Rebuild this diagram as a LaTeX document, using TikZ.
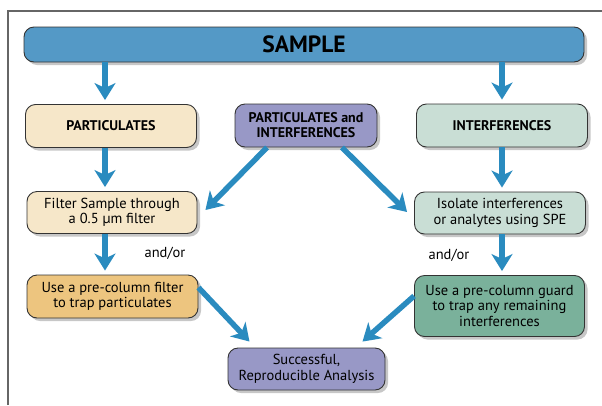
\documentclass[tikz,border=0pt]{standalone}
\usepackage{fontspec}
\setmainfont{PT Sans}
\usetikzlibrary{arrows.meta,shadows}
\definecolor{flowblue}{HTML}{2A8BBF}
\definecolor{sampleblue}{HTML}{5499C6}
\definecolor{beige}{HTML}{F6E7C9}
\definecolor{lavender}{HTML}{9898C6}
\definecolor{mint}{HTML}{C9DED5}
\definecolor{ochre}{HTML}{EDC57F}
\definecolor{sage}{HTML}{7AB19B}
\definecolor{boxline}{HTML}{333333}
\tikzset{
	box/.style={draw=boxline,line width=0.9pt,rounded corners=10pt,align=center,
		inner sep=0pt,font=\fontsize{14.5}{15.5}\selectfont,
		drop shadow={shadow xshift=3pt,shadow yshift=-3pt,fill=black!22,opacity=1}},
	headbox/.style={box,font=\bfseries\fontsize{14}{15}\selectfont},
	flow/.style={draw=flowblue,line width=5.5pt,
		-{Stealth[length=17pt,width=21pt,inset=5pt,fill=flowblue]}},
	note/.style={font=\fontsize{14.5}{15.5}\selectfont}
}
\begin{document}
\begin{tikzpicture}[x=1pt,y=-1pt]
	\useasboundingbox (0,0) rectangle (602,405);
	% frame
	\draw[black!60,line width=2pt] (8,405) -- (8,11) -- (602,11);
	% boxes
	\node[box,fill=sampleblue,minimum width=560pt,minimum height=35pt,
		font=\bfseries\fontsize{23.5}{25}\selectfont] (sample) at (304,44.5) {SAMPLE};
	\node[headbox,fill=beige,minimum width=171pt,minimum height=43pt] (part) at (111,126) {PARTICULATES};
	\node[headbox,fill=lavender,minimum width=142pt,minimum height=43pt] (pi) at (306,125.5) {PARTICULATES and\\INTERFERENCES};
	\node[headbox,fill=mint,minimum width=171pt,minimum height=43pt] (interf) at (502,125.5) {INTERFERENCES};
	\node[box,fill=beige,minimum width=170pt,minimum height=42pt] (filt) at (112,212.5) {Filter Sample through\\a 0.5 µm filter};
	\node[box,fill=mint,minimum width=171pt,minimum height=42pt] (iso) at (500,213) {Isolate interferences\\or analytes using SPE};
	\node[box,fill=ochre,minimum width=171pt,minimum height=43pt] (usef) at (112.5,296.5) {Use a pre-column filter\\to trap particulates};
	\node[box,fill=sage,minimum width=170pt,minimum height=61pt] (guard) at (499.5,306) {Use a pre-column guard\\to trap any remaining\\interferences};
	\node[box,fill=lavender,minimum width=157pt,minimum height=42pt] (succ) at (306.5,369) {Successful,\\Reproducible Analysis};
	% and/or
	\node[note] (andl) at (165,253) {and/or};
	\node[note] (andr) at (449,255) {and/or};
	% arrows
	\draw[flow] (sample.south -| 105,0) -- ([yshift=4pt]part.north -| 105,0);
	\draw[flow] (sample.south -| 502,0) -- ([yshift=4pt]interf.north -| 502,0);
	\draw[flow] (part.south -| 105,0) -- ([yshift=4pt]filt.north -| 105,0);
	\draw[flow] (interf.south -| 502,0) -- ([yshift=4pt]iso.north -| 502,0);
	\draw[flow] (filt.south -| 105,0) -- ([yshift=4pt]usef.north -| 105,0);
	\draw[flow] (iso.south -| 502,0) -- ([yshift=4pt]guard.north -| 502,0);
	\draw[flow] ([xshift=-39pt]pi.south) -- ([xshift=8pt,yshift=2.5pt]filt.east);
	\draw[flow] ([xshift=36pt]pi.south) -- ([xshift=-7pt,yshift=1pt]iso.west);
	\draw[flow] ([yshift=9pt]usef.east) -- ([xshift=-57pt,yshift=6pt]succ.north);
	\draw[flow] ([yshift=10pt]guard.west) -- ([xshift=56pt,yshift=6pt]succ.north);
\end{tikzpicture}
\end{document}
